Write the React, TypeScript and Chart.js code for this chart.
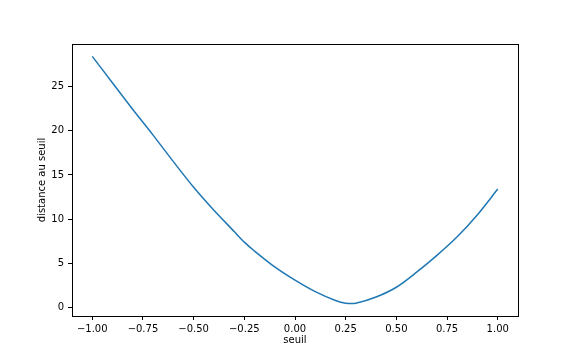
import React, { useEffect, useRef } from "react";
import { Chart, registerables } from "chart.js";

Chart.register(...registerables);

const seuil = [-1.0, -0.9, -0.8, -0.7, -0.6, -0.5, -0.4, -0.3, -0.25, -0.2, -0.1, 0.0, 0.1, 0.2, 0.25, 0.3, 0.4, 0.5, 0.6, 0.7, 0.8, 0.9, 1.0];
const distance = [28.4, 25.4, 22.4, 19.5, 16.5, 13.6, 11.0, 8.6, 7.4, 6.4, 4.6, 3.1, 1.8, 0.8, 0.5, 0.5, 1.2, 2.3, 4.0, 5.9, 8.0, 10.5, 13.4];
const xTicks = [-1.0, -0.75, -0.5, -0.25, 0.0, 0.25, 0.5, 0.75, 1.0];
const yTicks = [0, 5, 10, 15, 20, 25];

const FONT = "'DejaVu Sans', sans-serif";

const boxPlugin = {
  id: "box",
  afterDraw(chart: any) {
    const { ctx, chartArea } = chart;
    ctx.save();
    ctx.strokeStyle = "#000";
    ctx.lineWidth = 1;
    ctx.strokeRect(
      Math.round(chartArea.left) + 0.5,
      Math.round(chartArea.top) + 0.5,
      Math.round(chartArea.right - chartArea.left),
      Math.round(chartArea.bottom - chartArea.top)
    );
    ctx.restore();
  },
};

export default function App() {
  const ref = useRef<HTMLCanvasElement | null>(null);
  useEffect(() => {
    document.body.style.margin = "0";
    const canvas = ref.current!;
    const chart = new Chart(canvas, {
      type: "scatter",
      data: {
        datasets: [
          {
            data: seuil.map((x, i) => ({ x, y: distance[i] })),
            showLine: true,
            borderColor: "#1f77b4",
            borderWidth: 1.5,
            pointRadius: 0,
            tension: 0.3,
            fill: false,
          },
        ],
      },
      options: {
        animation: false,
        responsive: false,
        devicePixelRatio: 1,
        layout: { padding: { left: 0, top: 44, right: 58, bottom: 0 } },
        plugins: { legend: { display: false }, tooltip: { enabled: false } },
        scales: {
          x: {
            type: "linear",
            min: -1.1,
            max: 1.1,
            afterBuildTicks: (axis: any) => {
              axis.ticks = xTicks.map((v) => ({ value: v }));
            },
            afterFit: (axis: any) => {
              axis.height = 44;
            },
            grid: {
              drawOnChartArea: false,
              drawTicks: true,
              tickLength: 4,
              color: "#000",
            },
            border: { display: false },
            ticks: {
              color: "#000",
              padding: 3,
              maxRotation: 0,
              font: { family: FONT, size: 10 },
              callback: (v: any) => Number(v).toFixed(2).replace("-", "\u2212"),
            },
            title: {
              display: true,
              text: "seuil",
              color: "#000",
              font: { family: FONT, size: 10 },
              padding: { top: 0, bottom: 14 },
            },
          },
          y: {
            type: "linear",
            min: -0.95,
            max: 29.8,
            afterBuildTicks: (axis: any) => {
              axis.ticks = yTicks.map((v) => ({ value: v }));
            },
            afterFit: (axis: any) => {
              axis.width = 72;
            },
            grid: {
              drawOnChartArea: false,
              drawTicks: true,
              tickLength: 4,
              color: "#000",
            },
            border: { display: false },
            ticks: {
              color: "#000",
              padding: 4,
              font: { family: FONT, size: 10 },
              callback: (v: any) => String(v),
            },
            title: {
              display: true,
              text: "distance au seuil",
              color: "#000",
              font: { family: FONT, size: 10 },
              padding: { top: 36, bottom: 0 },
            },
          },
        },
      },
      plugins: [boxPlugin],
    });
    return () => chart.destroy();
  }, []);
  return (
    <div style={{ width: 576, height: 360, background: "#fff" }}>
      <canvas ref={ref} width={576} height={360} style={{ display: "block" }} />
    </div>
  );
}
